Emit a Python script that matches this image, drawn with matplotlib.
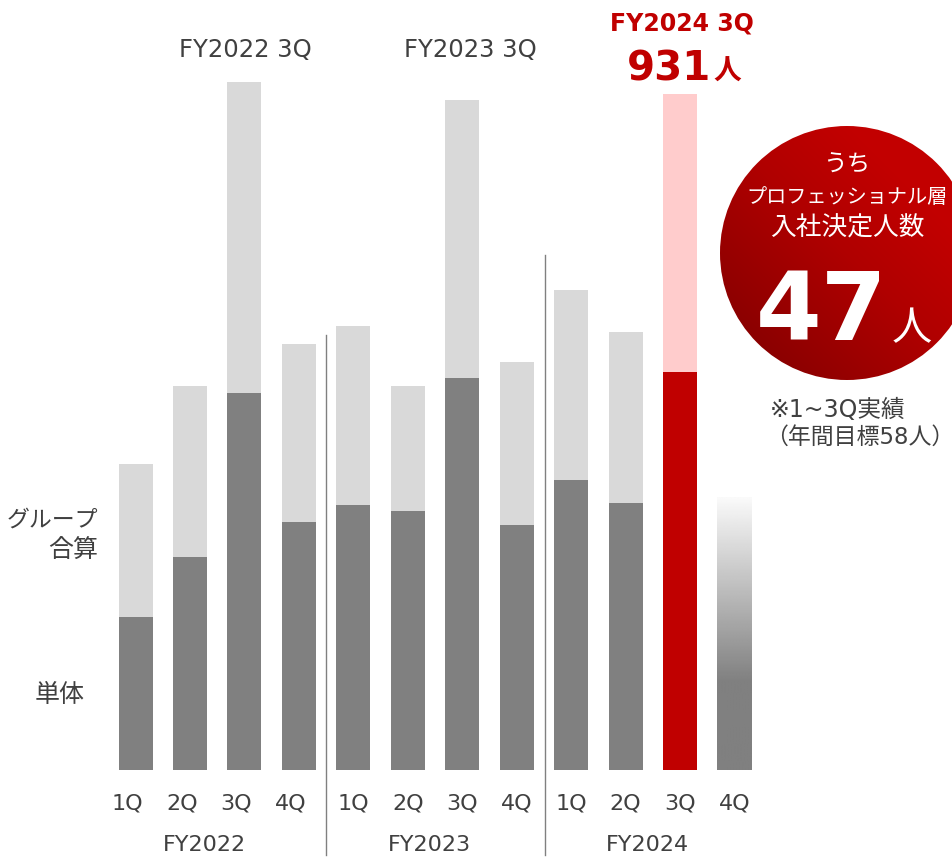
import numpy as np
import matplotlib

matplotlib.use("Agg")
import matplotlib.pyplot as plt
from matplotlib.patches import Circle
from matplotlib.colors import LinearSegmentedColormap
from matplotlib.transforms import ScaledTranslation

plt.rcParams["font.family"] = ["DejaVu Sans", "Noto Sans CJK JP"]

# --- data (people) ---
quarters = ["1Q", "2Q", "3Q", "4Q"] * 3
years = ["FY2022", "FY2023", "FY2024"]
group_total = [421, 529, 948, 587, 611, 529, 923, 562, 661, 603, 931]
single = [211, 293, 519, 342, 365, 357, 540, 337, 399, 368, 548]
fy2024_4q_outlook = 376          # faded placeholder bar
highlight = 10                   # FY2024 3Q
pro_hires = 47
pro_target = 58

GREY_TXT = "#404040"
RED = "#c00000"
W, H = 953, 857

fig = plt.figure(figsize=(W / 100, H / 100), dpi=100)
ax = fig.add_axes([108.3 / W, 87 / H, 653.4 / W, 726 / H])

x = np.arange(len(group_total))
bw = 0.625
base_c = [RED if i == highlight else "#808080" for i in x]
top_c = ["#ffcccc" if i == highlight else "#d9d9d9" for i in x]
upper = np.array(group_total) - np.array(single)
ax.bar(x, single, bw, color=base_c, edgecolor="none")
ax.bar(x, upper, bw, bottom=single, color=top_c, edgecolor="none")

# FY2024 4Q: grey bar fading to white towards the top
xi = len(group_total)
f = np.linspace(0, 1, 256)[:, None]
fade = 0.32
g = np.where(f < fade, 0.5, 0.5 + 0.48 * (f - fade) / (1 - fade))
ax.imshow(np.repeat(g, 2, axis=1), cmap="gray", vmin=0, vmax=1, origin="lower",
          extent=(xi - bw / 2, xi + bw / 2, 0, fy2024_4q_outlook),
          aspect="auto", interpolation="bilinear")

ax.set_xlim(-0.5, 11.5)
ax.set_ylim(0, 1000)
ax.set_xticks(range(len(quarters)), quarters)
ax.tick_params(axis="x", length=0, pad=17, labelsize=16, labelcolor=GREY_TXT)
# FY2022 quarter labels sit slightly left of their bars in the original
shift = ScaledTranslation(-8 / 100, 0, fig.dpi_scale_trans)
for lbl in ax.get_xticklabels()[:4]:
    lbl.set_transform(lbl.get_transform() + shift)
ax.set_yticks([])
for s in ax.spines.values():
    s.set_visible(False)

# --- overlay in pixel coordinates for annotations ---
ov = fig.add_axes([0, 0, 1, 1], zorder=3)
ov.patch.set_alpha(0)

ov.plot([326, 326], [335, 855], color="#808080", lw=1)
ov.plot([545, 545], [255, 855], color="#808080", lw=1)

for xc, yr in zip([204, 429, 647], years):
    ov.text(xc, 845, yr, ha="center", va="center", fontsize=16, color=GREY_TXT)

ov.text(245, 50, "FY2022 3Q", ha="center", va="center", fontsize=17.5, color=GREY_TXT)
ov.text(470, 50, "FY2023 3Q", ha="center", va="center", fontsize=17.5, color=GREY_TXT)
ov.text(682, 23, "FY2024 3Q", ha="center", va="center", fontsize=17,
        fontweight="bold", color=RED)
ov.text(711, 80, f"{group_total[highlight]}", ha="right", va="baseline", fontsize=29,
        fontweight="bold", color=RED)
ov.text(713, 80, "人", ha="left", va="baseline", fontsize=20, fontweight="bold", color=RED)

ov.text(98, 520, "グループ", ha="right", va="center", fontsize=16.5, color=GREY_TXT)
ov.text(98, 551, "合算", ha="right", va="center", fontsize=18, color=GREY_TXT)
ov.text(85, 695, "単体", ha="right", va="center", fontsize=18, color=GREY_TXT)

# red badge
cx, cy, r = 847, 253, 127
yy, xx = np.mgrid[0:1:200j, 0:1:200j]
t = (xx + (1 - yy)) / 2
cmap = LinearSegmentedColormap.from_list(
    "badge", [(0, "#7c0000"), (0.5, "#b00000"), (0.75, "#c20000"), (1, "#c40000")])
im = ov.imshow(t, cmap=cmap, extent=(cx - r, cx + r, cy + r, cy - r), origin="upper",
               aspect="auto", interpolation="bilinear")
circ = Circle((cx, cy), r, facecolor="none", edgecolor="none", transform=ov.transData)
ov.add_patch(circ)
im.set_clip_path(circ)

ov.text(cx, 165, "うち", ha="center", va="center", fontsize=17, color="white")
ov.text(cx, 197, "プロフェッショナル層", ha="center", va="center", fontsize=14.5, color="white")
ov.text(cx, 229, "入社決定人数", ha="center", va="center", fontsize=18.5, color="white")
ov.text(887, 340, f"{pro_hires}", ha="right", va="baseline", fontsize=68,
        fontweight="bold", color="white")
ov.text(892, 340, "人", ha="left", va="baseline", fontsize=29, color="white")

ov.text(770, 410, "※1~3Q実績", ha="left", va="center", fontsize=17, color=GREY_TXT)
ov.text(765, 437, f"（年間目標{pro_target}人）", ha="left", va="center", fontsize=16.5,
        color=GREY_TXT)

ov.set_xlim(0, W)
ov.set_ylim(H, 0)
ov.axis("off")

fig.savefig("out.png", dpi=100)
